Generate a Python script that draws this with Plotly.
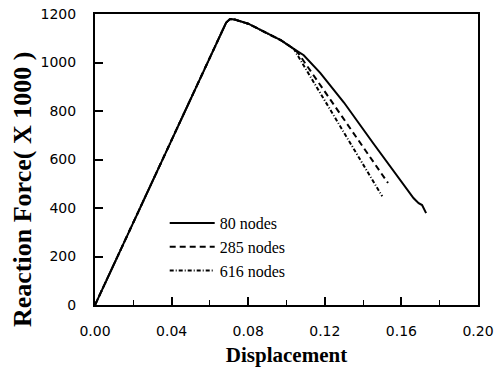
import plotly.graph_objects as go

# 80 nodes (solid)
x80 = [0.0, 0.0685, 0.0705, 0.073, 0.080, 0.088, 0.097, 0.104, 0.107, 0.109, 0.1176, 0.130, 0.145, 0.1584, 0.1663, 0.169, 0.1708, 0.1729]
y80 = [0, 1165, 1179, 1177, 1160, 1127, 1092, 1055, 1040, 1030, 957, 835, 670, 524, 441, 420, 412, 379]
# 285 nodes (dashed)
x285 = [0.0, 0.0685, 0.0705, 0.073, 0.080, 0.088, 0.097, 0.104, 0.106, 0.1333, 0.153]
y285 = [0, 1165, 1179, 1177, 1160, 1127, 1092, 1055, 1040, 728, 503]
# 616 nodes (dash-dot)
x616 = [0.0, 0.0685, 0.0705, 0.073, 0.080, 0.088, 0.097, 0.104, 0.105, 0.150]
y616 = [0, 1165, 1179, 1177, 1160, 1127, 1092, 1055, 1040, 448]

xticks = [0.00, 0.04, 0.08, 0.12, 0.16, 0.20]
yticks = [0, 200, 400, 600, 800, 1000, 1200]

serif_bold = "Liberation Serif"
sans = "DejaVu Sans"

fig = go.Figure()
fig.add_trace(go.Scatter(x=x616, y=y616, mode="lines", name="616 nodes",
                         line=dict(color="black", width=2, dash="4px,2px,1px,2px")))
fig.add_trace(go.Scatter(x=x285, y=y285, mode="lines", name="285 nodes",
                         line=dict(color="black", width=2, dash="6px,4px")))
fig.add_trace(go.Scatter(x=x80, y=y80, mode="lines", name="80 nodes",
                         line=dict(color="black", width=2)))

fig.update_layout(
    width=496, height=371,
    margin=dict(l=95, r=18, t=14, b=66, autoexpand=False),
    paper_bgcolor="white", plot_bgcolor="white",
    showlegend=True,
    legend=dict(x=0.182, y=0.34, xanchor="left", yanchor="top", itemwidth=45,
                traceorder="reversed", bgcolor="rgba(0,0,0,0)",
                font=dict(family=serif_bold, size=16, color="black")),
    font=dict(family=sans, size=14, color="black"),
)
fig.add_annotation(
    text="<b>Reaction Force( X 1000 )</b>", textangle=-90,
    xref="paper", yref="paper", x=-(95 - 22) / 383, y=(305 - 190) / 291,
    xanchor="center", yanchor="middle", showarrow=False,
    font=dict(family=serif_bold, size=26, color="black"),
)
fig.update_xaxes(
    range=[0, 0.20], tickvals=xticks, ticktext=[f"{v:.2f}" for v in xticks],
    ticks="inside", ticklen=8, tickwidth=1.5, tickcolor="black",
    minor=dict(ticks="inside", ticklen=5, tickwidth=1, tickcolor="black", dtick=0.02),
    showline=True, linecolor="black", linewidth=2, mirror=True,
    showgrid=False, zeroline=False, ticklabelstandoff=12,
    title=dict(text="<b>Displacement</b>", font=dict(family=serif_bold, size=21), standoff=10),
    tickfont=dict(family=sans, size=14),
)
fig.update_yaxes(
    range=[0, 1200], tickvals=yticks,
    ticks="inside", ticklen=8, tickwidth=1.5, tickcolor="black",
    showline=True, linecolor="black", linewidth=2, mirror=True,
    showgrid=False, zeroline=False, ticklabelstandoff=14,
    tickfont=dict(family=sans, size=14),
)

fig.write_html("out.html")
